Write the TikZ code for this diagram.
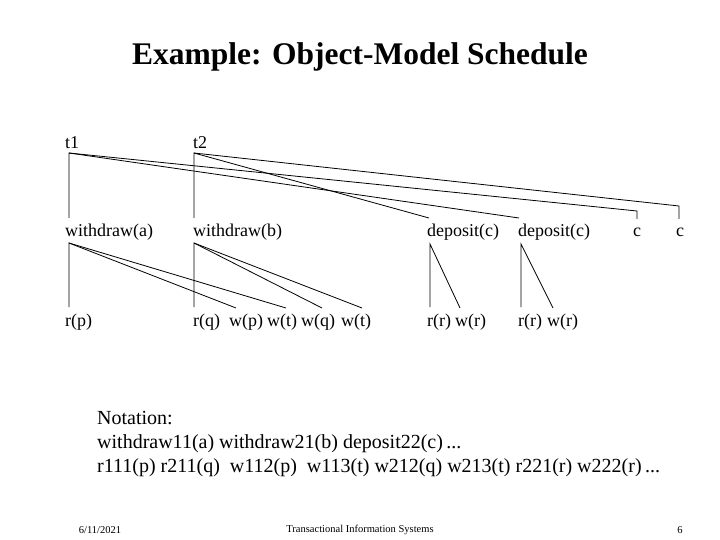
\documentclass[tikz,border=0pt]{standalone}
\usepackage{fontspec}
\setmainfont{Liberation Serif}
\begin{document}
\begin{tikzpicture}[x=1pt,y=-1pt,
  lbl/.style={anchor=west,inner sep=0pt,font=\fontsize{18}{20}\selectfont},
  edge/.style={line width=0.8pt},
  foot/.style={inner sep=0pt,font=\fontsize{10.5}{12}\selectfont}]
\useasboundingbox (0,0) rectangle (720,540);
\node[font=\bfseries\fontsize{31.5}{36}\selectfont] (title) at (360,57) {Example: Object-Model Schedule};
% row labels
\node[lbl] (t1) at (65,143) {t1};
\node[lbl] (t2) at (193,143) {t2};
\node[lbl] (wa) at (65,232) {withdraw(a)};
\node[lbl] (wb) at (193,232) {withdraw(b)};
\node[lbl] (d1) at (427,232) {deposit(c)};
\node[lbl] (d2) at (518,232) {deposit(c)};
\node[lbl] (c1) at (633,232) {c};
\node[lbl] (c2) at (676,232) {c};
\node[lbl] (rp) at (65,322) {r(p)};
\node[lbl] (rq) at (193,322) {r(q)};
\node[lbl] (wp) at (229,322) {w(p)};
\node[lbl] (wt1) at (267,322) {w(t)};
\node[lbl] (wq) at (301,322) {w(q)};
\node[lbl] (wt2) at (341,322) {w(t)};
\node[lbl] (rr1) at (427,322) {r(r)};
\node[lbl] (wr1) at (455,322) {w(r)};
\node[lbl] (rr2) at (518,322) {r(r)};
\node[lbl] (wr2) at (547,322) {w(r)};
% apex and end coordinates
\coordinate (at1) at (69,153);
\coordinate (at2) at (194,153);
\coordinate (ewa) at (69,218);
\coordinate (ewb) at (194,218);
\coordinate (ed1) at (429,218);
\coordinate (ed2) at (519,218);
\coordinate (kc1) at (637,211);
\coordinate (ec1) at (637,219);
\coordinate (kc2) at (679,206);
\coordinate (ec2) at (679,219);
\coordinate (awa) at (69,243);
\coordinate (awb) at (194,243);
\coordinate (ad1) at (430,244);
\coordinate (ad2) at (521,244);
\coordinate (erp) at (69,307);
\coordinate (erq) at (194,307);
\coordinate (ewp) at (236,308);
\coordinate (ewt1) at (286,308);
\coordinate (ewq) at (322,308);
\coordinate (ewt2) at (362,308);
\coordinate (err1) at (430,307);
\coordinate (ewr1) at (460,308);
\coordinate (err2) at (521,307);
\coordinate (ewr2) at (553,308);
% edges
\draw[edge] (ewa) -- (at1) -- (ed2);
\draw[edge] (at1) -- (kc1) -- (ec1);
\draw[edge] (ewb) -- (at2) -- (ed1);
\draw[edge] (at2) -- (kc2) -- (ec2);
\draw[edge] (erp) -- (awa) -- (ewp);
\draw[edge] (awa) -- (ewt1);
\draw[edge] (erq) -- (awb) -- (ewq);
\draw[edge] (awb) -- (ewt2);
\draw[edge] (err1) -- (ad1) -- (ewr1);
\draw[edge] (err2) -- (ad2) -- (ewr2);
% notation
\node[anchor=north west,inner sep=0pt,align=left,font=\fontsize{20}{24}\selectfont] (nota) at (97,411)
 {Notation:\\withdraw11(a) withdraw21(b) deposit22(c)\,...\\r111(p) r211(q)\ \ w112(p)\ \ w113(t) w212(q) w213(t) r221(r) w222(r)\,...};
% footer
\node[foot] (date) at (100,530) {6/11/2021};
\node[foot] (tis) at (360,530) {Transactional Information Systems};
\node[foot] (pg) at (680,530) {6};
\end{tikzpicture}
\end{document}
